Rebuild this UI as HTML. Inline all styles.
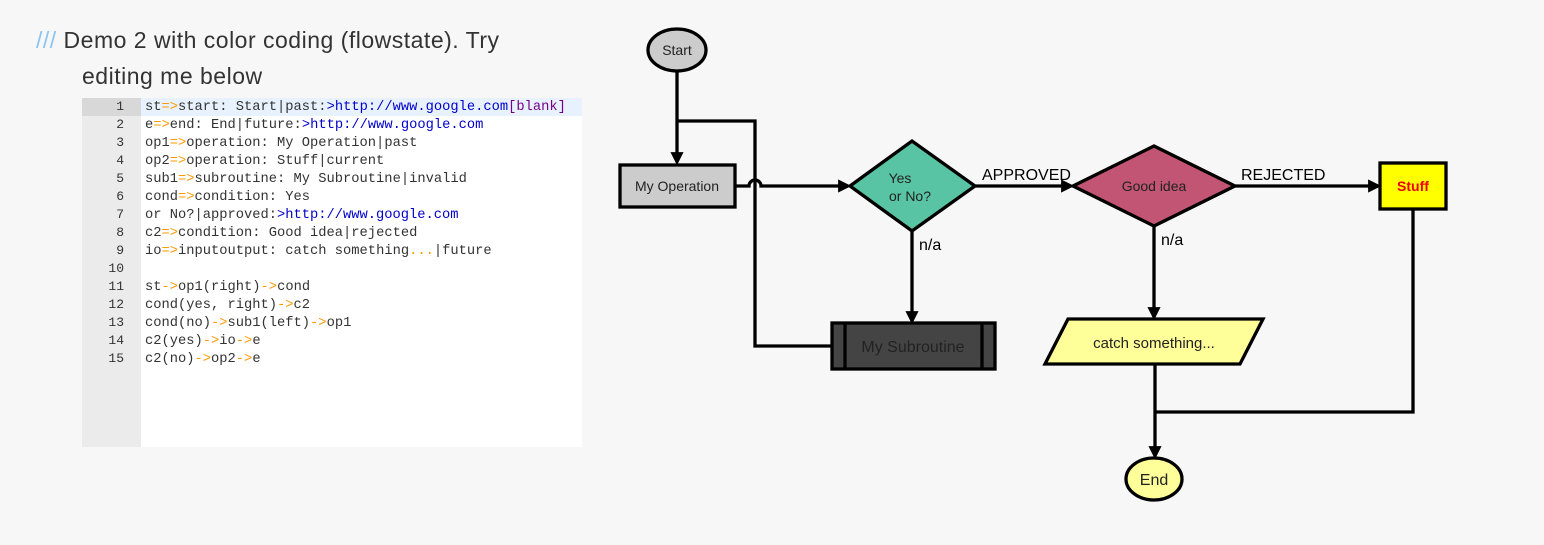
<!DOCTYPE html>
<html><head><style>
body{margin:0;width:1544px;height:545px;background:#f7f7f7;position:relative;overflow:hidden;font-family:"Liberation Sans",sans-serif}
.t{position:absolute;left:36px;top:22px;font-size:23px;color:#333;line-height:36px;letter-spacing:0.5px}
.ed{position:absolute;left:82px;top:98px;width:500px;height:349px;background:#fff}
.gut{position:absolute;left:0;top:0;width:59px;height:349px;background:#ebebeb}
.code{position:absolute;left:0;top:0;font-family:"Liberation Mono",monospace;font-size:13.75px;line-height:18px;color:#333}
.l{height:18px;white-space:pre}
.n{display:inline-block;width:42px;text-align:right;color:#333;margin-right:21px;font-size:13px}
.o{color:#f90}.u{color:#00c}.p{color:#708}
</style></head><body>
<div class="t"><span style="color:#8bc4f0">///</span> Demo 2 with color coding (flowstate). Try<br><span style="margin-left:46px">editing me below</span></div>
<div class="ed"><div class="gut"></div><div style="position:absolute;left:0;top:0;width:59px;height:18px;background:#d8d8d8"></div><div style="position:absolute;left:59px;top:0;width:441px;height:18px;background:#e8f2ff"></div>
<div class="code">
<div class="l"><span class="n">1</span>st<span class="o">=&gt;</span>start: Start|past:<span class="u">&gt;http://www.google.com</span><span class="p">[blank]</span></div>
<div class="l"><span class="n">2</span>e<span class="o">=&gt;</span>end: End|future:<span class="u">&gt;http://www.google.com</span></div>
<div class="l"><span class="n">3</span>op1<span class="o">=&gt;</span>operation: My Operation|past</div>
<div class="l"><span class="n">4</span>op2<span class="o">=&gt;</span>operation: Stuff|current</div>
<div class="l"><span class="n">5</span>sub1<span class="o">=&gt;</span>subroutine: My Subroutine|invalid</div>
<div class="l"><span class="n">6</span>cond<span class="o">=&gt;</span>condition: Yes</div>
<div class="l"><span class="n">7</span>or No?|approved:<span class="u">&gt;http://www.google.com</span></div>
<div class="l"><span class="n">8</span>c2<span class="o">=&gt;</span>condition: Good idea|rejected</div>
<div class="l"><span class="n">9</span>io<span class="o">=&gt;</span>inputoutput: catch something<span class="o">...</span>|future</div>
<div class="l"><span class="n">10</span></div>
<div class="l"><span class="n">11</span>st<span class="o">-&gt;</span>op1(right)<span class="o">-&gt;</span>cond</div>
<div class="l"><span class="n">12</span>cond(yes, right)<span class="o">-&gt;</span>c2</div>
<div class="l"><span class="n">13</span>cond(no)<span class="o">-&gt;</span>sub1(left)<span class="o">-&gt;</span>op1</div>
<div class="l"><span class="n">14</span>c2(yes)<span class="o">-&gt;</span>io<span class="o">-&gt;</span>e</div>
<div class="l"><span class="n">15</span>c2(no)<span class="o">-&gt;</span>op2<span class="o">-&gt;</span>e</div>
</div></div>
<svg width="1544" height="545" style="position:absolute;left:0;top:0" font-family="Liberation Sans, sans-serif">
<defs><marker id="a" markerWidth="4" markerHeight="4" refX="3" refY="2" orient="auto" markerUnits="strokeWidth"><path d="M0,0L4,2L0,4z" fill="#000"/></marker></defs>
<g stroke="#000" stroke-width="3.3" fill="none">
<path d="M677,71V162" marker-end="url(#a)"/>
<path d="M832,346H755V121H677"/>
<path d="M735,186H749A6,6 0 0 1 761,186H848" marker-end="url(#a)"/>
<path d="M912,231V321" marker-end="url(#a)"/>
<path d="M975,186H1071" marker-end="url(#a)"/>
<path d="M1235,186H1378" marker-end="url(#a)"/>
<path d="M1154,226V317" marker-end="url(#a)"/>
<path d="M1155,364V456" marker-end="url(#a)"/>
<path d="M1413,209V412H1155"/>
</g>
<g stroke="#000" stroke-width="3.3">
<ellipse cx="677" cy="50" rx="29" ry="21" fill="#ccc"/>
<rect x="620" y="165" width="115" height="42" fill="#ccc"/>
<path d="M850,186L912,141L975,186L912,231Z" fill="#58c4a4"/>
<rect x="832" y="323" width="163" height="46" fill="#444"/>
<path d="M845,323V369M982,323V369"/>
<path d="M1073,186L1154,146L1235,186L1154,226Z" fill="#c25574"/>
<rect x="1380" y="163" width="66" height="46" fill="#ff0"/>
<path d="M1068,319H1263L1240,364H1045Z" fill="#ffff99"/>
<ellipse cx="1154" cy="479" rx="28" ry="21" fill="#ffff99"/>
</g>
<g font-size="14" fill="#222" text-anchor="middle">
<text x="677" y="55">Start</text>
<text x="677" y="191">My Operation</text>
<text x="900" y="183">Yes</text><text x="910" y="201">or No?</text>
<text x="913" y="352" font-size="16">My Subroutine</text>
<text x="1154" y="191">Good idea</text>
<text x="1413" y="191" fill="#e00" font-weight="bold">Stuff</text>
<text x="1154" y="348" font-size="15">catch something...</text>
<text x="1154" y="485" font-size="16">End</text>
</g>
<g font-size="16" fill="#000">
<text x="982" y="180">APPROVED</text>
<text x="1241" y="180">REJECTED</text>
<text x="919" y="250">n/a</text>
<text x="1161" y="245">n/a</text>
</g>
</svg>
</body></html>
